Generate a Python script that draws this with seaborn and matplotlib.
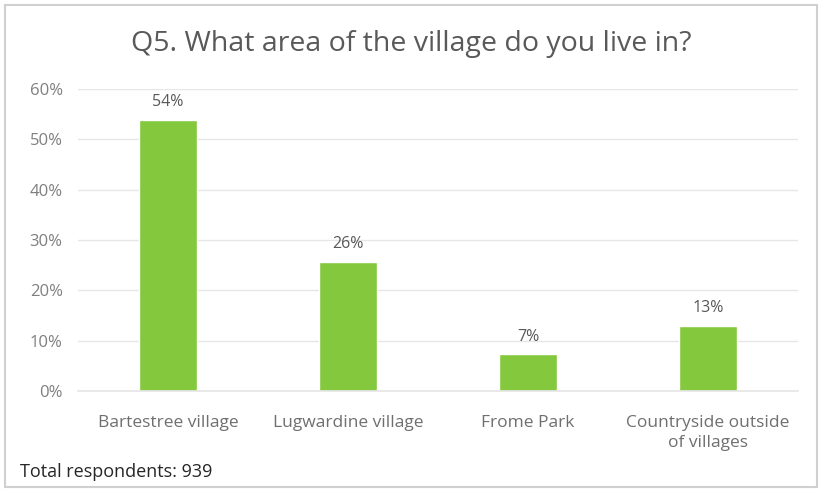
import matplotlib
matplotlib.use("Agg")
import matplotlib.pyplot as plt
import seaborn as sns
import pandas as pd
from matplotlib.patches import Rectangle

categories = ["Bartestree village", "Lugwardine village", "Frome Park", "Countryside outside\nof villages"]
values = [0.538, 0.257, 0.073, 0.129]
labels = ["54%", "26%", "7%", "13%"]
yticks = [0, 0.1, 0.2, 0.3, 0.4, 0.5, 0.6]
ytick_labels = ["0%", "10%", "20%", "30%", "40%", "50%", "60%"]
title = "Q5. What area of the village do you live in?"
footnote = "Total respondents: 939"

sns.set_theme(style="white")
plt.rcParams['font.family'] = ['Open Sans', 'DejaVu Sans']

df = pd.DataFrame({"cat": categories, "val": values})

fig = plt.figure(figsize=(8.22, 4.92), dpi=100)
ax = fig.add_axes([78/822, 1-391/492, 720/822, (391-89)/492])

sns.barplot(data=df, x="cat", y="val", color="#84c83e", width=0.32, ax=ax, saturation=1)

ax.set_ylim(0, 0.6)
ax.set_xlim(-0.5, 3.5)
ax.set_yticks(yticks)
ax.set_yticklabels(ytick_labels, color="#7f7f7f", fontsize=12)
ax.yaxis.grid(True, color="#e6e6e6", linewidth=1)
ax.set_axisbelow(True)
for s in ["top", "right", "left"]:
    ax.spines[s].set_visible(False)
ax.spines["bottom"].set_color("#e6e6e6")
ax.tick_params(axis="both", length=0)
ax.tick_params(axis="y", pad=11)
ax.tick_params(axis="x", pad=17)
for t in ax.get_xticklabels():
    t.set_color("#6f6f6f")
    t.set_fontsize(12.5)
    t.set_linespacing(1.35)
ax.set_xlabel("")
ax.set_ylabel("")

for i, (v, l) in enumerate(zip(values, labels)):
    ax.annotate(l, (i, v), xytext=(0, 7), textcoords="offset points",
                ha="center", va="bottom", fontsize=11.5, color="#595959")

fig.text(411/822, 1-44/492, title, ha="center", va="center", fontsize=20.5, color="#595959")
fig.text(20/822, 1-472/492, footnote, ha="left", va="center", fontsize=13, color="#262626")

fig.patches.append(Rectangle((5/822, 5/492), 812/822, 482/492, transform=fig.transFigure,
                             fill=False, edgecolor="#d0d0d0", linewidth=1.5))

fig.savefig("out.png", dpi=100, facecolor="white")
